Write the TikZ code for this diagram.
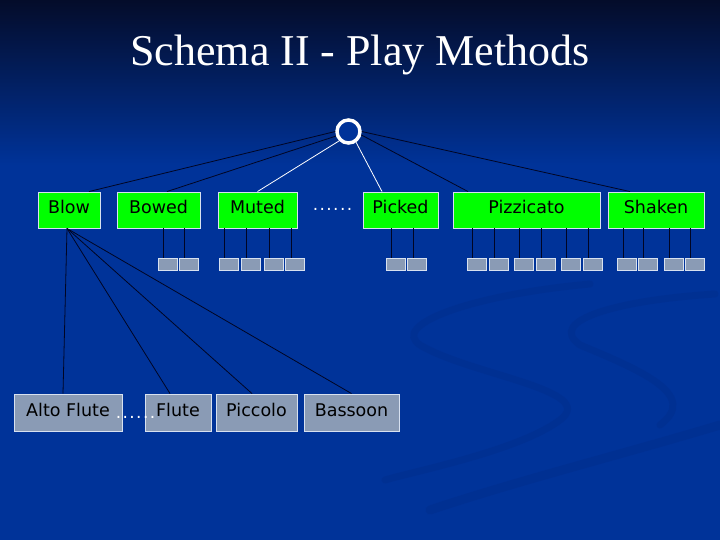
\documentclass[tikz,border=0pt]{standalone}
\usepackage{fontspec}
\setmainfont{DejaVu Sans}
\newfontfamily\titlefont{Liberation Serif}
\definecolor{slideblue}{RGB}{0,51,153}
\definecolor{slidetop}{RGB}{4,12,42}
\definecolor{swirl}{RGB}{0,30,110}
\definecolor{catgreen}{RGB}{0,255,0}
\definecolor{leafgray}{RGB}{138,155,181}
\definecolor{edgewhite}{RGB}{215,225,240}
\definecolor{linkdark}{RGB}{0,5,35}
\newcommand{\dotrow}{.\kern1.4pt.\kern1.4pt.\kern1.4pt.\kern1.4pt.\kern1.4pt.}
\begin{document}
\begin{tikzpicture}[x=1pt,y=-1pt,
  label/.style={font=\fontsize{17.5}{20}\selectfont, text height=12.5, text depth=5.5, inner sep=0},
  cat/.style={label, draw=edgewhite, line width=0.9, fill=catgreen, text=black, minimum height=36},
  leaf/.style={draw=edgewhite, line width=0.9, fill=leafgray, minimum width=19, minimum height=12.5, inner sep=0},
  inst/.style={label, draw=edgewhite, line width=0.9, fill=leafgray, text=black, minimum height=37},
  link/.style={draw=linkdark, line width=0.8},
  wlink/.style={draw=white, line width=0.8},
  dots/.style={font=\fontsize{17}{20}\selectfont, text=white, inner sep=0, anchor=base}]
\useasboundingbox (0,0) rectangle (720,540);

% background
\fill[slideblue] (0,0) rectangle (720,540);
\shade[top color=slidetop, bottom color=slideblue] (0,0) rectangle (720,165);
\begin{scope}[swirl, opacity=0.14, line cap=round]
\draw[line width=7] (590,284) .. controls (470,295) and (390,325) .. (420,345)
  .. controls (470,375) and (600,390) .. (560,420)
  .. controls (520,450) and (420,470) .. (385,480);
\draw[line width=7] (715,294) .. controls (620,300) and (545,320) .. (580,345)
  .. controls (640,370) and (700,395) .. (660,425);
\draw[line width=9] (720,425) .. controls (620,455) and (520,480) .. (430,510);
\end{scope}

\node[font=\titlefont\fontsize{44}{50}\selectfont, text=white] (title) at (360,55) {Schema II - Play Methods};

\node[circle, draw=white, line width=3.5, fill=slideblue, minimum size=23] (root) at (348.5,131.5) {};

% categories
\node[cat, minimum width=62] (blow) at (69,210) {Blow};
\node[cat, minimum width=83] (bowed) at (158.5,210) {Bowed};
\node[cat, minimum width=79] (muted) at (257.5,210) {Muted};
\node[dots] (dotsa) at (332.5,211) {\dotrow};
\node[cat, minimum width=75] (picked) at (400.5,210) {Picked};
\node[cat, minimum width=147] (pizz) at (526.5,210) {Pizzicato};
\node[cat, minimum width=96] (shaken) at (656,210) {Shaken};

\draw[link] (root.180) -- ([xshift=20]blow.north);
\draw[link] (root.200) -- ([xshift=8.5]bowed.north);
\draw[wlink] (root.225) -- (muted.north);
\draw[wlink] (root.-55) -- ([xshift=-18.5]picked.north);
\draw[link] (root.-15) -- ([xshift=-58.5]pizz.north);
\draw[link] (root.0) -- ([xshift=-26]shaken.north);

% small boxes under each category
\foreach \p/\xs in {bowed/{167.5,188.5}, muted/{228.5,250.5,273.5,295}, picked/{395.5,417},
    pizz/{476.5,498.5,523.5,545.5,570.5,592.5}, shaken/{627,647.5,673.5,694.5}}{
  \foreach \x [count=\i] in \xs {
    \node[leaf] (\p\i) at (\x,264.5) {};
    \draw[link] ([xshift=6]\p\i.north west) -- ([xshift=6]\p\i.north west |- \p.south);
  }
}

% instruments
\node[inst, minimum width=108] (alto) at (68,412.5) {Alto Flute};
\node[inst, minimum width=66] (flute) at (178,412.5) {Flute};
\node[inst, minimum width=81] (piccolo) at (256.5,412.5) {Piccolo};
\node[inst, minimum width=95] (bassoon) at (351.5,412.5) {Bassoon};
\node[dots] (dotsb) at (135.5,418) {\dotrow};

\foreach \n/\s in {alto/-5, flute/-8, piccolo/-4.5, bassoon/0}
  \draw[link] ([xshift=-2]blow.south) -- ([xshift=\s]\n.north);
\end{tikzpicture}
\end{document}
